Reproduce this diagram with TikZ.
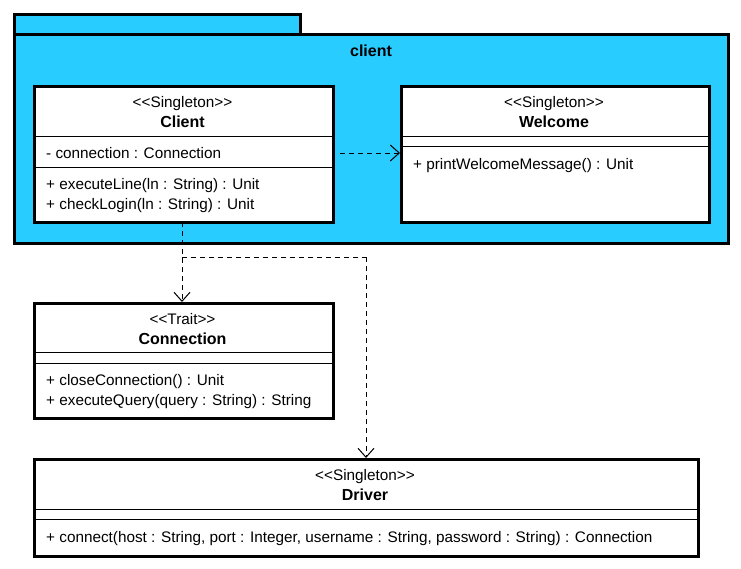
\documentclass[tikz,border=0pt]{standalone}
\usepackage{fontspec}
\setmainfont{Liberation Sans}
\usetikzlibrary{arrows.meta}
\definecolor{pkgblue}{RGB}{41,204,255}
\newcommand{\stereo}[1]{{<}{<}#1{>}{>}}
\tikzset{
  cls/.style={draw, line width=2.6pt, fill=white, inner sep=0pt, anchor=north west},
  sep/.style={line width=0.9pt},
  txt/.style={inner sep=0pt, anchor=mid, yshift=-2.5pt, font=\fontsize{15.3}{17}\selectfont},
  ltxt/.style={txt, anchor=mid west},
  btxt/.style={txt, font=\fontsize{16}{18}\selectfont\bfseries},
  dep/.style={line width=1pt, dash pattern=on 5pt off 4pt, -{Straight Barb[length=9pt,width=16pt,line width=1pt]}},
  depl/.style={line width=1pt, dash pattern=on 5pt off 4pt}
}
\begin{document}
\begin{tikzpicture}[x=1pt,y=-1pt]
\fill[white] (0,0) rectangle (741,568);
\useasboundingbox (0,0) rectangle (741,568);
% package
\node[draw, line width=2.6pt, fill=pkgblue, inner sep=0pt, anchor=north west, minimum width=286pt, minimum height=20pt] (tab) at (13,13) {};
\node[draw, line width=2.6pt, fill=pkgblue, inner sep=0pt, anchor=north west, minimum width=714pt, minimum height=209pt] (pkg) at (13,33) {};
\node[btxt] (pkgname) at (371,51) {client};
% Client
\node[cls, minimum width=299pt, minimum height=136pt] (client) at (33,85) {};
\draw[sep] (33,136) -- (332,136);
\draw[sep] (33,167) -- (332,167);
\node[txt] (clientst) at (182.5,102) {\stereo{Singleton}};
\node[btxt] (clientnm) at (182.5,122) {Client};
\node[ltxt] (clienta1) at (46,153) {- connection : Connection};
\node[ltxt] (clientm1) at (46,184) {+ executeLine(ln : String) : Unit};
\node[ltxt] (clientm2) at (46,204) {+ checkLogin(ln : String) : Unit};
% Welcome
\node[cls, minimum width=308pt, minimum height=136pt] (welcome) at (400,85) {};
\draw[sep] (400,136) -- (708,136);
\draw[sep] (400,146) -- (708,146);
\node[txt] (welcomest) at (554,102) {\stereo{Singleton}};
\node[btxt] (welcomenm) at (554,122) {Welcome};
\node[ltxt] (welcomem1) at (413,164) {+ printWelcomeMessage() : Unit};
% Connection
\node[cls, minimum width=299pt, minimum height=115pt] (conn) at (33,302) {};
\draw[sep] (33,352) -- (332,352);
\draw[sep] (33,363) -- (332,363);
\node[txt] (connst) at (182.5,319) {\stereo{Trait}};
\node[btxt] (connnm) at (182.5,339) {Connection};
\node[ltxt] (connm1) at (46,380) {+ closeConnection() : Unit};
\node[ltxt] (connm2) at (46,400) {+ executeQuery(query : String) : String};
% Driver
\node[cls, minimum width=664pt, minimum height=97pt] (driver) at (33,458) {};
\draw[sep] (33,509) -- (697,509);
\draw[sep] (33,519) -- (697,519);
\node[txt] (driverst) at (365,475) {\stereo{Singleton}};
\node[btxt] (drivernm) at (365,495) {Driver};
\node[ltxt] (driverm1) at (46,537) {+ connect(host : String, port : Integer, username : String, password : String) : Connection};
% dependencies
\coordinate (cw) at (340,153);
\draw[dep] (cw) -- (cw -| welcome.west);
\coordinate (cs) at (182,222);
\draw[dep] (cs) -- (cs |- conn.north);
\coordinate (bend) at (182,257);
\coordinate (bend2) at (366,257);
\draw[depl] (bend) -- (bend2);
\draw[dep] (bend2) -- (bend2 |- driver.north);
\end{tikzpicture}
\end{document}
